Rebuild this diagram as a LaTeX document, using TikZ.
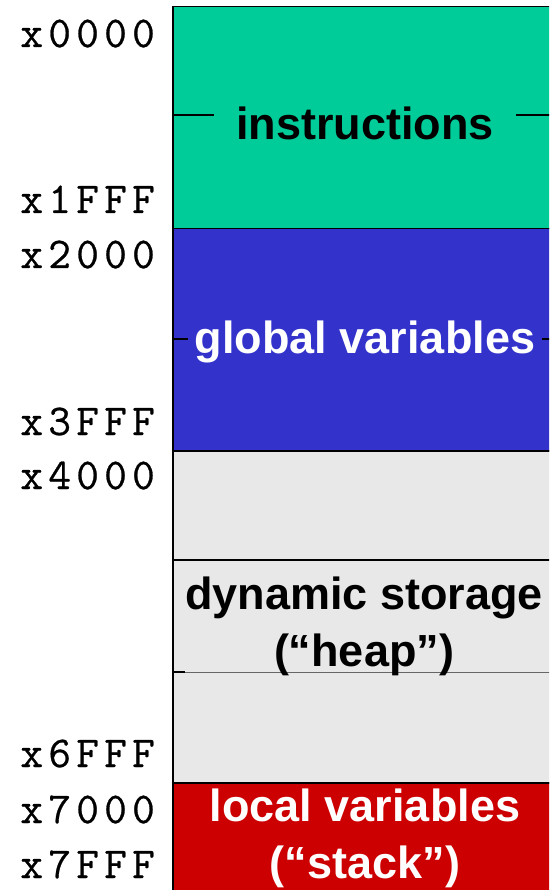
\documentclass[tikz,border=0pt]{standalone}
\usepackage{fontspec}
\setmainfont{Liberation Sans}
\newfontfamily\addrmono[LetterSpace=12, FakeBold=0.6]{Latin Modern Mono}
\usetikzlibrary{positioning}
\definecolor{instrgreen}{HTML}{00CC99}
\definecolor{globalblue}{HTML}{3333CC}
\definecolor{heapgray}{HTML}{E8E8E8}
\definecolor{stackred}{HTML}{CC0000}
\tikzstyle{segment} = [rectangle, draw=black, line width=1.5pt, minimum width=386pt, inner sep=0pt, anchor=north west]
\tikzstyle{addr} = [anchor=base east, inner sep=0pt, font=\addrmono\fontsize{44}{44}\selectfont]
\tikzstyle{label} = [inner sep=0pt, anchor=base, align=center, font=\bfseries\fontsize{45}{57}\selectfont]

\begin{document}
\begin{tikzpicture}[x=1pt, y=-1pt]
\useasboundingbox (0,0) rectangle (549,890);
\clip (0,0) rectangle (549,890);
% memory segments
\node (instr) [segment, fill=instrgreen, minimum height=222pt] at (172,6) {};
\node (global) [segment, fill=globalblue, minimum height=222pt] at (172,228) {};
\node (heap) [segment, fill=heapgray, minimum height=332pt] at (172,450) {};
\node (stack) [segment, fill=stackred, minimum height=140pt] at (172,782) {};
\draw [line width=1.5pt] (heap.west |- 0,560) -- (heap.east |- 0,560);
\draw [line width=1pt, black!60] (heap.west |- 0,672) -- (heap.east |- 0,672);
\draw [line width=1.5pt] (heap.west |- 0,672) -- ++(13,0);
\draw [line width=1.2pt] (instr.west |- 0,115) -- (instr.east |- 0,115);
\draw [line width=1.2pt] (global.west |- 0,339) -- (global.east |- 0,339);
% segment labels (base = last line)
\node (instr_txt) [label, fill=instrgreen, inner xsep=22pt, inner ysep=2pt] at (365,140) {instructions};
\node (global_txt) [label, fill=globalblue, text=white, inner xsep=7pt, inner ysep=2pt] at (365,353) {global variables};
\node (heap_txt) [label] at (364,666) {dynamic storage\\(“heap”)};
\node (stack_txt) [label, text=white] at (365,878) {local variables\\(“stack”)};
% addresses
\node (a0000) [addr] at (155,47) {x0000};
\node (a1fff) [addr] at (155,213) {x1FFF};
\node (a2000) [addr] at (155,268) {x2000};
\node (a3fff) [addr] at (155,435) {x3FFF};
\node (a4000) [addr] at (155,489) {x4000};
\node (a6fff) [addr] at (155,767) {x6FFF};
\node (a7000) [addr] at (155,823) {x7000};
\node (a7fff) [addr] at (155,878) {x7FFF};
\end{tikzpicture}
\end{document}
